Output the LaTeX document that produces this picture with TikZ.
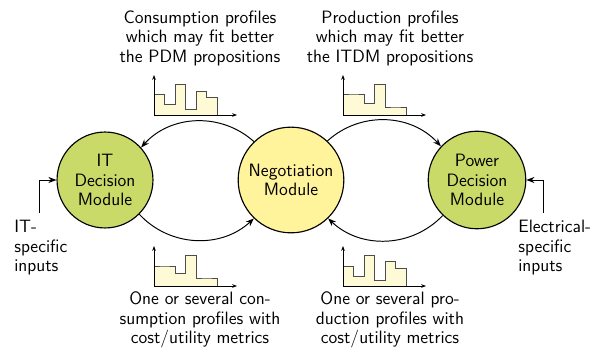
\documentclass[tikz,border=0pt]{standalone}
\usepackage{tikz}
\usetikzlibrary{arrows.meta}

\definecolor{modgreen}{RGB}{201,218,104}
\definecolor{negoyellow}{RGB}{255,243,156}
\definecolor{barfill}{RGB}{255,250,214}

\tikzset{
  every node/.style={font=\sffamily\fontsize{11}{12}\selectfont},
  module/.style={circle, draw, line width=0.7pt, align=center, inner sep=0pt},
  label/.style={align=center, inner sep=0pt},
  flow/.style={-{Stealth[length=5pt]}, line width=0.6pt},
  bars/.style={draw=black!70, fill=barfill, line width=0.5pt},
  axis/.style={-{Stealth[length=3pt]}, line width=0.5pt}
}

% step profile: origin x, origin y, heights of the six steps
\newcommand\profile[3]{
  \begin{scope}[shift={(#1,#2)}]
    \draw[bars] (0,0) \foreach \h [count=\i from 0] in {#3} { -- (\i*10.5,-\h) -- (\i*10.5+10.5,-\h) } -- (63,0) -- cycle;
    \draw[axis] (0,0) -- (0,-40);
    \draw[axis] (0,0) -- (83,0);
  \end{scope}
}

\begin{document}
\begin{tikzpicture}[x=0.615pt, y=-0.615pt]
  \useasboundingbox (0,0) rectangle (595,352);

  \node[module, fill=modgreen, minimum size=59pt] (it) at (105,180) {IT\\Decision\\Module};
  \node[module, fill=negoyellow, minimum size=65pt] (nego) at (291,180) {Negotiation\\Module};
  \node[module, fill=modgreen, minimum size=60pt] (power) at (477,180) {Power\\Decision\\Module};

  \draw[flow] (nego.134) to[bend right=45] (it.42);
  \draw[flow] (nego.47) to[bend left=45] (power.137);
  \draw[flow] (it.-45) to[bend right=45] (nego.226);
  \draw[flow] (power.226) to[bend left=45] (nego.-46);

  \profile{154}{115}{21,11,31,6,24,18}
  \profile{343}{115}{21,21,12,31,8,8}
  \profile{154}{286}{20,20,13,31,8,8}
  \profile{343}{286}{20,10,31,6,25,18}

  \node[label] (conslab) at (200,38) {Consumption profiles\\which may fit better\\the PDM propositions};
  \node[label] (prodlab) at (390,38) {Production profiles\\which may fit better\\the ITDM propositions};
  \node[label] (conscost) at (200,320) {One or several con-\\sumption profiles with\\cost/utility metrics};
  \node[label] (prodcost) at (390,320) {One or several pro-\\duction profiles with\\cost/utility metrics};

  \node[label, align=left, anchor=west] (itin) at (14,248) {IT-\\specific\\inputs};
  \node[label, align=left, anchor=west] (elin) at (518,248) {Electrical-\\specific\\inputs};

  \coordinate (itfeed) at (39,213);
  \coordinate (elfeed) at (543,213);
  \draw[flow] (itfeed) |- (it.west);
  \draw[flow] (elfeed) |- (power.east);
\end{tikzpicture}
\end{document}
